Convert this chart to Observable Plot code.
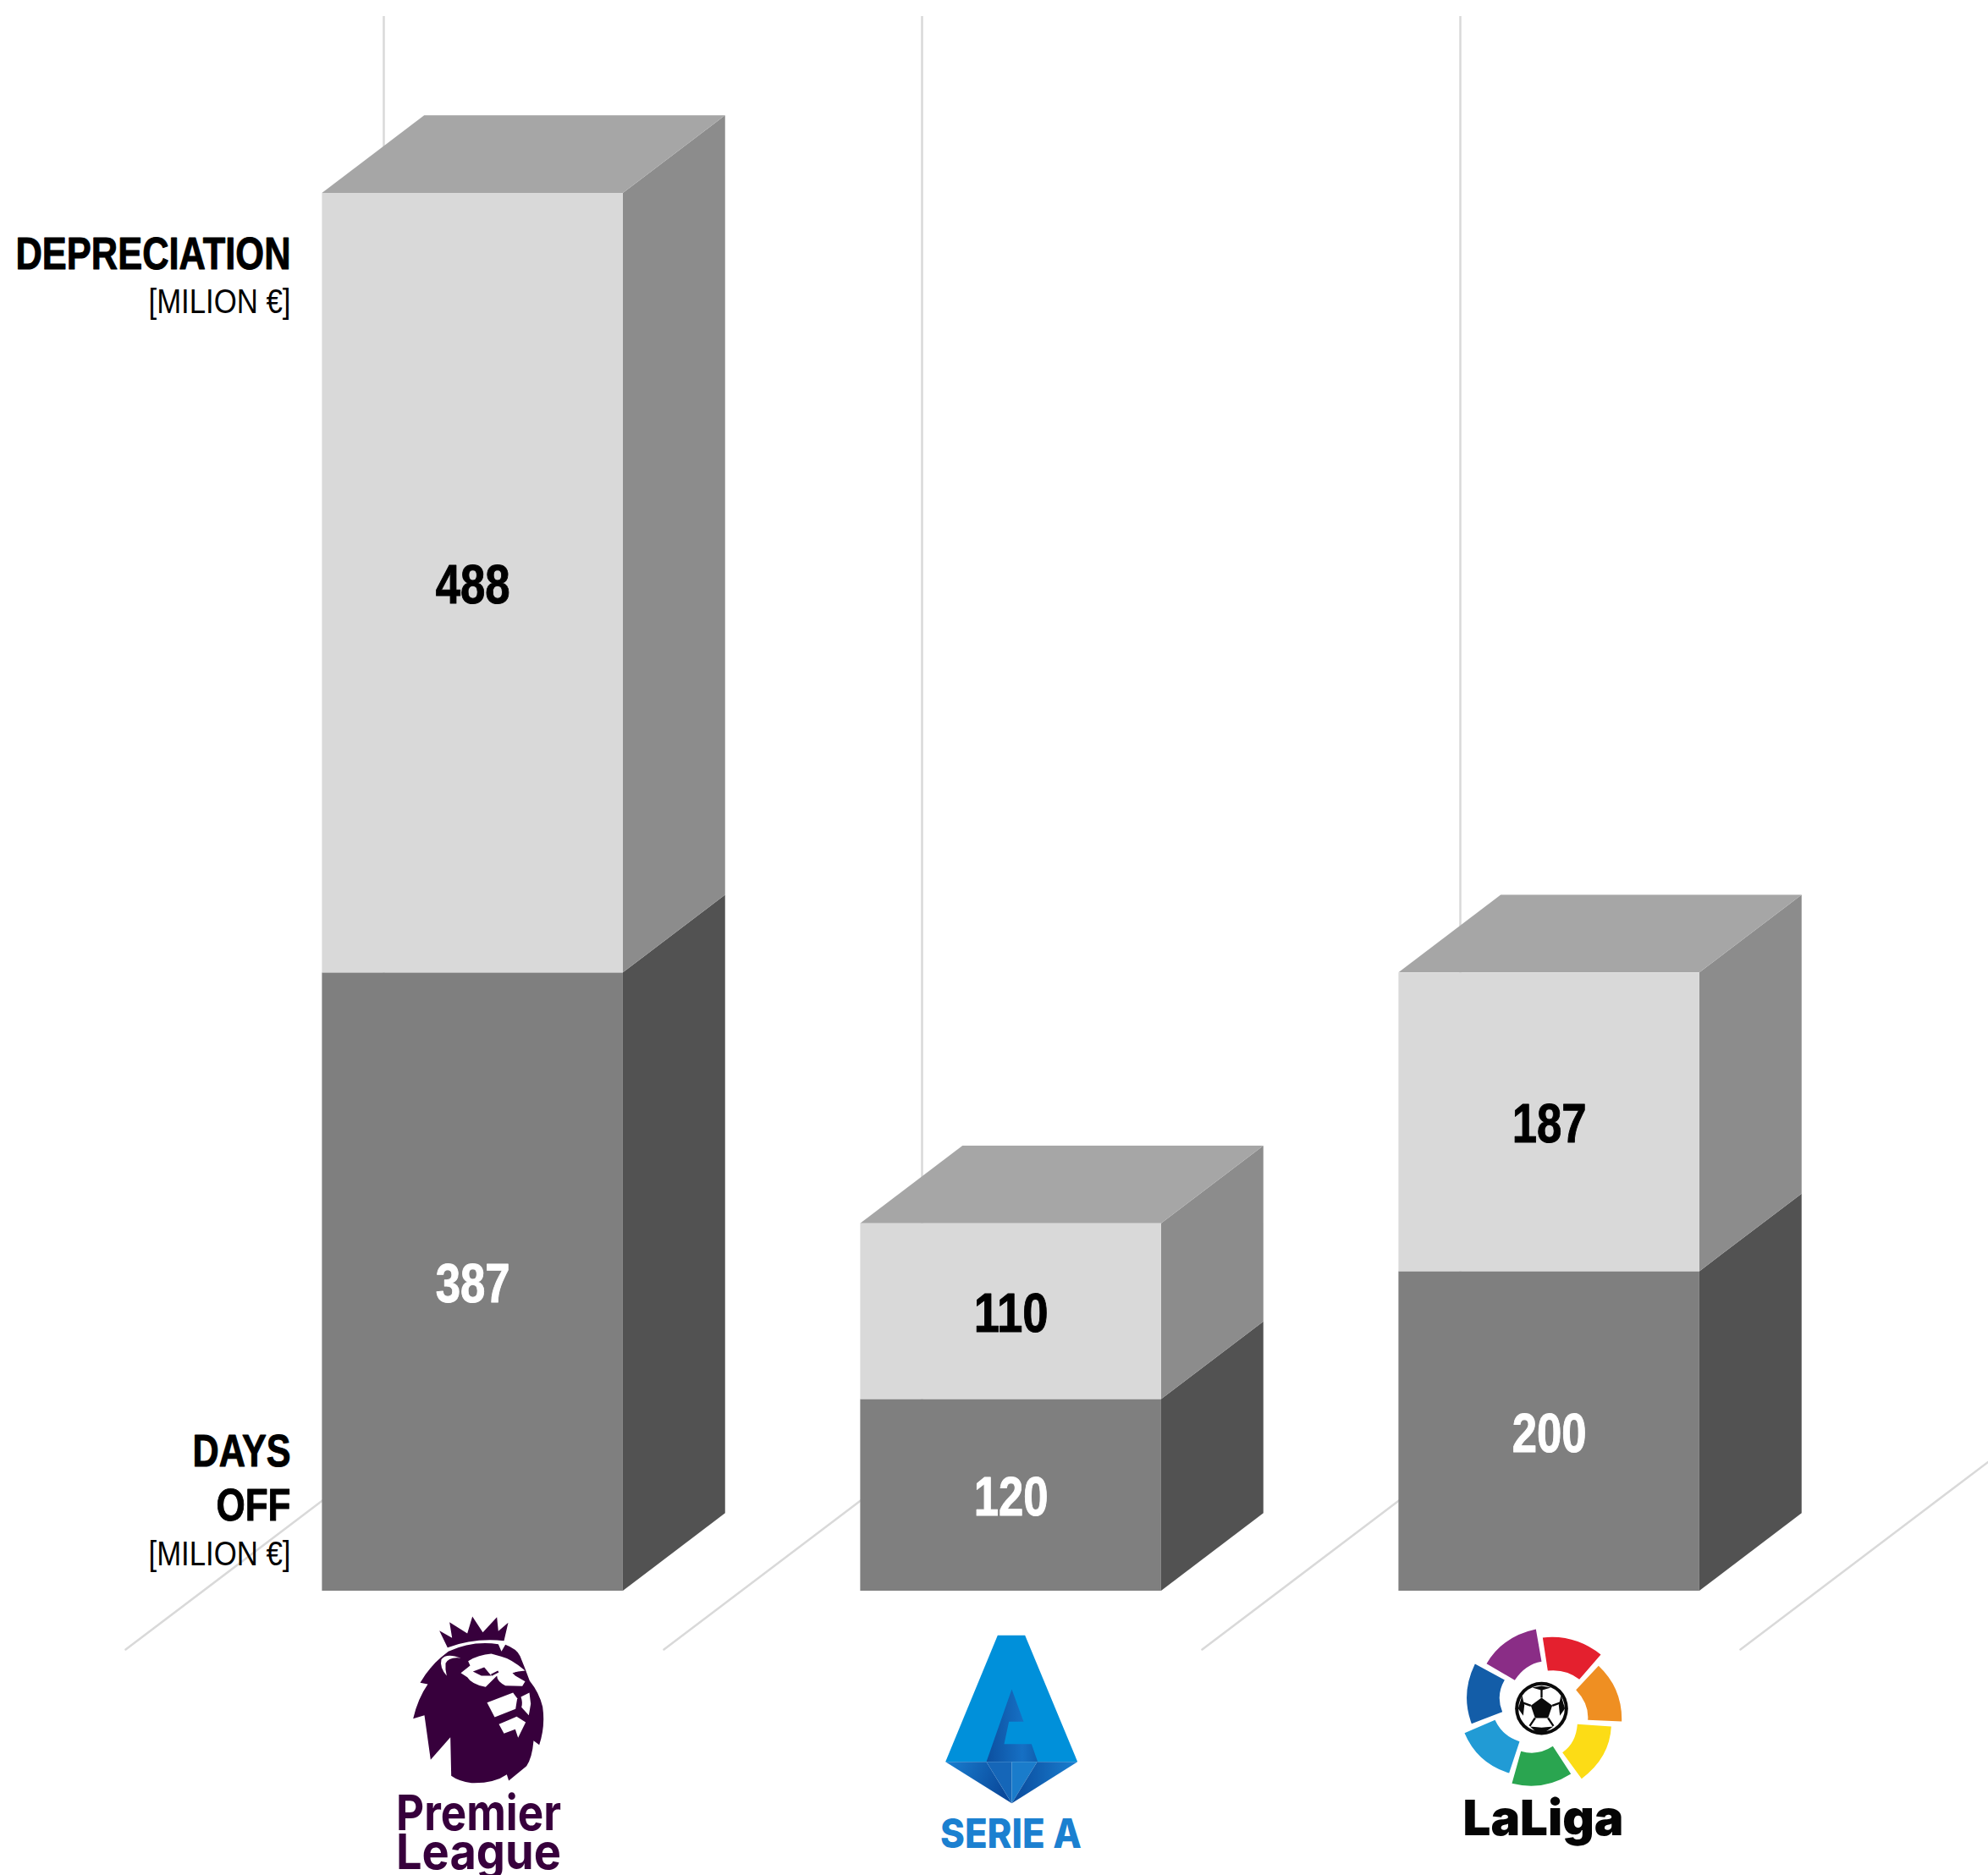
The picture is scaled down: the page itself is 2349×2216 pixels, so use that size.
<!DOCTYPE html>
<html>
<head>
<meta charset="utf-8">
<script src="https://cdn.jsdelivr.net/npm/d3@7"></script>
<script src="https://cdn.jsdelivr.net/npm/@observablehq/plot@0.6"></script>
<style>
  html, body { margin: 0; padding: 0; background: #fff; }
  svg { display: block; }
</style>
</head>
<body>
<div id="chart"></div>
<script>
// League figures, in million euro
const leagues = ["Premier League", "Serie A", "LaLiga"];
const daysOff = [387, 120, 200];
const depreciation = [488, 110, 187];

// Drawing geometry: x is measured in league slots, y in million euro
const W = 2349, H = 2216;
const floorPx = 1880, pxPerValue = 1.888, leftPx = 380.4, pxPerSlot = 636;
const barWidth = 0.559, depthX = 0.19, depthY = 48.6;
const xOf = px => (px - leftPx) / pxPerSlot;
const yOf = px => (floorPx - px) / pxPerValue;

const sans = "'Liberation Sans', Arial, sans-serif";

// Squeezes a text mark's strings to a set advance width, for a condensed look
const fitWidth = len => (index, scales, values, dims, context, next) => {
  const g = next(index, scales, values, dims, context);
  g.querySelectorAll("text").forEach(t => {
    t.setAttribute("textLength", len);
    t.setAttribute("lengthAdjust", "spacingAndGlyphs");
  });
  return g;
};

const bars = leagues.map((league, i) => ({
  league, i, days: daysOff[i], dep: depreciation[i], total: daysOff[i] + depreciation[i]
}));

// A slanted face is two rows: its front edge and its back edge
const sideFace = (low, high) => bars.flatMap(b => [
  {i: b.i, x: b.i + barWidth, y1: low(b), y2: high(b)},
  {i: b.i, x: b.i + barWidth + depthX, y1: low(b) + depthY, y2: high(b) + depthY}
]);
const topFace = bars.flatMap(b => [
  {i: b.i, y: b.total, x1: b.i, x2: b.i + barWidth},
  {i: b.i, y: b.total + depthY, x1: b.i + depthX, x2: b.i + barWidth + depthX}
]);

// Floor and wall guides behind each bar
const guideIndex = [0, 1, 2, 3];
const floorFrontX = xOf(148), floorBackX = xOf(453), floorFrontY = yOf(1949), floorBackY = yOf(1718), wallTopY = yOf(19);
const floorGuides = guideIndex.flatMap(g => [
  {g, x: g + floorFrontX, y: floorFrontY},
  {g, x: g + floorBackX, y: floorBackY}
]);
const wallGuides = guideIndex.slice(0, 3).map(g => ({x: g + floorBackX}));

// League crests as small vector drawings
const svgUri = (w, h, body) =>
  "data:image/svg+xml," + encodeURIComponent(
    `<svg xmlns="http://www.w3.org/2000/svg" viewBox="0 0 ${w} ${h}" width="${w}" height="${h}">${body}</svg>`);

const lion = svgUri(780, 1008, `
  <g fill="#37003c">
    <path d="M265 200L236 140L281 166L272 110L335 150L353 90L390 146L440 92L445 142L480 112L465 176Q360 165 265 200Z"/>
    <path d="M268 214Q350 175 445 188L456 214L470 190Q510 205 522 230L540 275L556 318Q590 360 602 410Q612 480 590 545L570 530Q565 590 545 620L482 672L475 650Q430 682 350 680Q305 675 278 655L275 518L205 598L183 440L143 452Q160 380 195 330L168 325Q200 270 242 235Z"/>
  </g>
  <g fill="#fff">
    <path d="M262 300Q236 270 243 242Q262 218 312 238L300 236Q268 235 258 256Q256 280 262 300Z"/>
    <path d="M312 290L345 264L338 248Q375 225 420 222L455 232Q490 240 540 282L515 285L495 290L505 300L540 320L530 337L470 335Q440 320 440 300L400 340Q350 330 335 305Z"/>
    <path d="M405 395L497 360L512 380L506 418L432 447Z"/>
    <path d="M525 375L555 360L560 400L553 440L527 412Q532 395 525 375Z"/>
    <path d="M447 472L510 445L542 465L515 520L505 490L465 505Z"/>
  </g>
  <path fill="#37003c" d="M355 285L395 270L420 300L385 300Z"/>
  <path fill="none" stroke="#37003c" stroke-width="7" d="M420 298L445 285M505 290L530 295"/>
`);

const shield = svgUri(660, 900, `
  <defs>
    <linearGradient id="a" x1="0" y1="0" x2="1" y2="0.3"><stop offset="0" stop-color="#1a7fd0"/><stop offset="1" stop-color="#0a4a9c"/></linearGradient>
    <linearGradient id="b" x1="0" y1="0" x2="1" y2="0"><stop offset="0" stop-color="#0a4a9c"/><stop offset="1" stop-color="#1a7fd0"/></linearGradient>
    <linearGradient id="c" x1="0" y1="0" x2="1" y2="0"><stop offset="0" stop-color="#0c4f9f"/><stop offset="0.7" stop-color="#1670c4"/><stop offset="1" stop-color="#0f5fb0"/></linearGradient>
  </defs>
  <path fill="#0090da" d="M295 97H392L578 545H110Z"/>
  <path fill="url(#c)" d="M345 288L387 403H335L318 482H415L437 545H255Z"/>
  <path fill="url(#a)" d="M110 545H255L345 692Z"/>
  <path fill="#1566b8" d="M255 545H345V692Z"/>
  <path fill="#1a7ccb" d="M345 545H435L345 692Z"/>
  <path fill="url(#b)" d="M435 545H578L345 692Z"/>
`);

const wheel = svgUri(720, 900, `
  <path fill="#8a2d86" d="M343 75L363 190Q305 200 268 256L168 197Q225 100 343 75Z"/>
  <path fill="#e4202e" d="M367 105Q480 92 573 165L497 253Q450 215 385 222Z"/>
  <path fill="#ef8f22" d="M565 205Q650 285 647 402L527 397Q532 340 485 290Z"/>
  <path fill="#fcdc16" d="M610 420Q605 530 505 605L437 512Q485 480 490 412Z"/>
  <path fill="#2aa550" d="M467 588Q370 650 258 622L290 508Q350 525 403 490Z"/>
  <path fill="#219bd5" d="M248 585Q135 550 90 443L198 397Q225 455 285 473Z"/>
  <path fill="#135da8" d="M115 410Q75 305 127 198L232 255Q200 310 224 368Z"/>
  <circle cx="363" cy="356" r="94" fill="#0a0a0a"/>
  <circle cx="363" cy="356" r="82" fill="#fff"/>
  <path fill="#0a0a0a" d="M363 318L401 346L386 390H340L325 346Z"/>
  <path fill="none" stroke="#0a0a0a" stroke-width="7" d="M363 318V285M401 346L432 335M386 390L405 418M340 390L321 418M325 346L294 335"/>
  <path fill="#0a0a0a" d="M330 282L363 276L396 282L363 292Z"/>
  <path fill="#0a0a0a" d="M432 310L446 356L428 382L424 345Z"/>
  <path fill="#0a0a0a" d="M405 420L375 440H345L322 420L363 424Z"/>
  <path fill="#0a0a0a" d="M294 310L280 356L298 382L302 345Z"/>
`);

const crests = [
  {src: lion,   cx: 570,  cy: 2048, w: 260, h: 336},
  {src: shield, cx: 1190, cy: 2050, w: 220, h: 300},
  {src: wheel,  cx: 1820, cy: 2050, w: 240, h: 300}
];

// Word marks under the crests
const wordmarks = [
  {text: "Premier", cx: 565,  base: 2162, size: 58, fill: "#37003c", weight: 700, len: 195},
  {text: "League",  cx: 565,  base: 2208, size: 58, fill: "#37003c", weight: 700, len: 195},
  {text: "SERIE A", cx: 1194, base: 2183, size: 48, fill: "#1b80d0", weight: 800, len: 167},
  {text: "LaLiga",  cx: 1823, base: 2168, size: 58, fill: "#050505", weight: 900, len: 190}
];

// Row labels at the left of the first bar
const rowLabels = [
  {text: "DEPRECIATION", base: 317,  size: 53, weight: 700, len: 325, sw: 1},
  {text: "[MILION €]",   base: 369,  size: 41, weight: 400, len: 168, sw: 0},
  {text: "DAYS",         base: 1732, size: 53, weight: 700, len: 116, sw: 1},
  {text: "OFF",          base: 1796, size: 53, weight: 700, len: 88,  sw: 1},
  {text: "[MILION €]",   base: 1849, size: 41, weight: 400, len: 168, sw: 0}
];

const chart = Plot.plot({
  width: W,
  height: H,
  margin: 0,
  style: {background: "#fff"},
  x: {axis: null, domain: [xOf(0), xOf(W)], range: [0, W]},
  y: {axis: null, domain: [yOf(H), yOf(0)], range: [H, 0]},
  marks: [
    // guides
    Plot.ruleX(wallGuides, {x: "x", y1: floorBackY, y2: wallTopY, stroke: "#d9d9d9", strokeWidth: 2.5}),
    Plot.line(floorGuides, {x: "x", y: "y", z: "g", stroke: "#d9d9d9", strokeWidth: 2.5}),

    // side faces
    Plot.areaY(sideFace(() => 0, b => b.days), {x: "x", y1: "y1", y2: "y2", z: "i", fill: "#525252"}),
    Plot.areaY(sideFace(b => b.days, b => b.total), {x: "x", y1: "y1", y2: "y2", z: "i", fill: "#8c8c8c"}),
    // top faces
    Plot.areaX(topFace, {y: "y", x1: "x1", x2: "x2", z: "i", fill: "#a6a6a6"}),
    // front faces
    Plot.rect(bars, {x1: "i", x2: d => d.i + barWidth, y1: 0, y2: "days", fill: "#7f7f7f"}),
    Plot.rect(bars, {x1: "i", x2: d => d.i + barWidth, y1: "days", y2: "total", fill: "#d9d9d9"}),

    // value labels
    Plot.text(bars, {x: d => d.i + barWidth / 2, y: d => d.days / 2, text: d => String(d.days), dy: 3.5,
      fill: "#fff", stroke: "#fff", strokeWidth: 1, fontFamily: sans, fontWeight: 700, fontSize: 64, render: fitWidth(88)}),
    Plot.text(bars, {x: d => d.i + barWidth / 2, y: d => d.days + d.dep / 2, text: d => String(d.dep), dy: 3.5,
      fill: "#000", stroke: "#000", strokeWidth: 1, fontFamily: sans, fontWeight: 700, fontSize: 64, render: fitWidth(88)}),

    // row labels
    ...rowLabels.map(l => Plot.text([l], {
      x: xOf(343), y: yOf(l.base), text: "text", textAnchor: "end", lineAnchor: "bottom",
      stroke: l.sw ? "#000" : "none", strokeWidth: l.sw,
      fontFamily: sans, fontWeight: l.weight, fontSize: l.size, fill: "#000", render: fitWidth(l.len)
    })),

    // crests and word marks
    ...crests.map(c => Plot.image([c], {x: xOf(c.cx), y: yOf(c.cy), src: "src", width: c.w, height: c.h})),
    ...wordmarks.map(m => Plot.text([m], {
      x: xOf(m.cx), y: yOf(m.base), text: "text", lineAnchor: "bottom",
      fontFamily: "Inter", fontWeight: m.weight, fontSize: m.size, fill: m.fill, render: fitWidth(m.len)
    }))
  ]
});
document.getElementById("chart").append(chart);
</script>
</body>
</html>
